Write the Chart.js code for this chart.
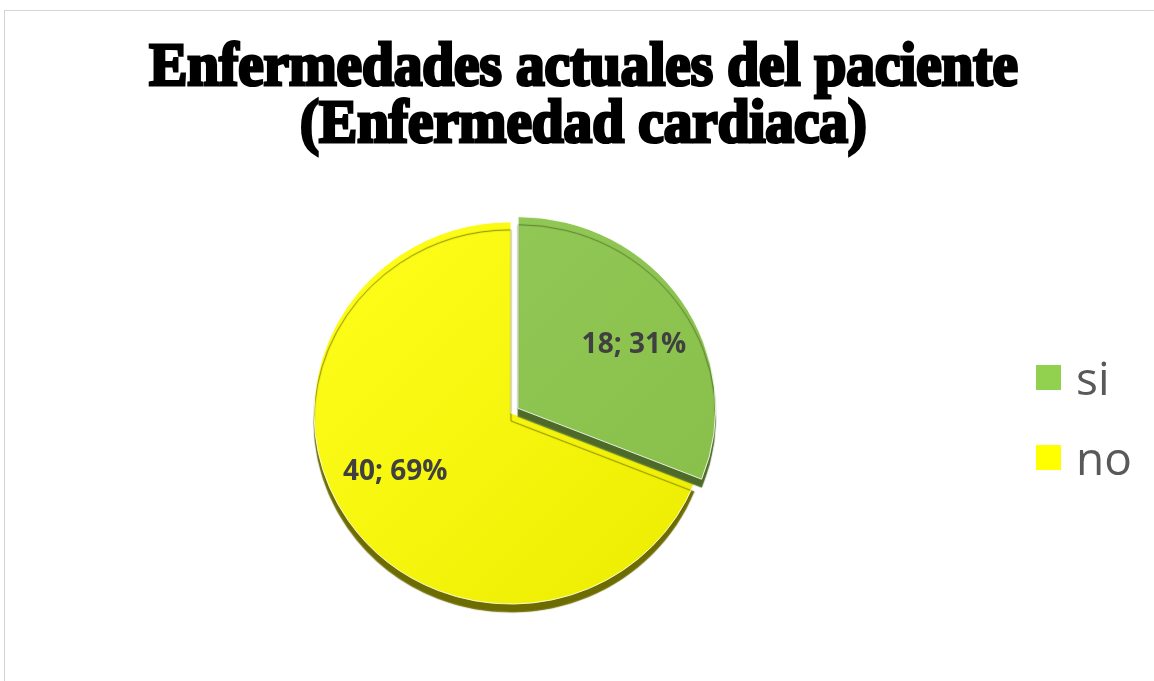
<!DOCTYPE html>
<html><head><meta charset="utf-8">
<script src="https://cdn.jsdelivr.net/npm/chart.js@4.4.1/dist/chart.umd.min.js"></script>
<style>
html,body{margin:0;padding:0;background:#fff;width:1154px;height:681px;overflow:hidden;}
#wrap{position:relative;width:1154px;height:681px;}
#frame{position:absolute;left:4px;top:10px;width:1200px;height:700px;border-top:1px solid #d4d4d4;border-left:1px solid #d4d4d4;}
#c{position:absolute;left:0;top:0;}
#title{position:absolute;left:0;top:36px;width:1167px;text-align:center;font-family:"Liberation Serif",serif;font-weight:bold;font-size:57px;line-height:54px;color:#000;-webkit-text-stroke:3px #000;margin:0;transform:scale(1.003,1.06);transform-origin:50% 0;}
#legend{position:absolute;left:1036px;top:0;font-family:"Open Sans",sans-serif;color:#595959;}
.li{position:absolute;left:0;display:flex;align-items:center;height:46px;white-space:nowrap;font-size:46px;line-height:46px;}
.sw{width:25px;height:25px;margin-right:15px;flex:none;}
</style></head>
<body><div id="wrap"><div id="frame"></div><canvas id="c" width="1154" height="681"></canvas>
<div id="title"></div><div id="legend"></div></div>
<script>
// ---- data ----
const titleLines = ['Enfermedades actuales del paciente', '(Enfermedad cardiaca)'];
const categories = ['si', 'no'];
const counts = [18, 40];

// ---- styles ----
const legendColors = ['#92D050', '#FFFF00'];
const gradStops = [['#95CB59', '#86BE49'], ['#FFFF1C', '#ECEC00']];
const depthColors = ['#4E6A28', '#6C6C00'];
const depth = 8;
const tilt = 0.97;
const labelRadius = 0.67;
const labelShift = 5.5 * Math.PI / 180;
const legendTop = 354, legendStep = 80;

document.getElementById('title').innerHTML = titleLines.map(t => t.replace(/&/g,'&amp;')).join('<br>');

function sliceFill(c) {
  const i = c.dataIndex;
  const chart = c.chart, a = chart.chartArea;
  if (!a || i === undefined) return legendColors[i || 0];
  const cx = (a.left + a.right) / 2, cy = (a.top + a.bottom) / 2;
  const g = chart.ctx.createLinearGradient(cx - 200, cy - 200, cx + 200, cy + 200);
  g.addColorStop(0, gradStops[i][0]);
  g.addColorStop(1, gradStops[i][1]);
  return g;
}

const depthPlugin = {
  id: 'depth',
  beforeDatasetDraw(chart, args) {
    const els = args.meta.data;
    if (!els.length) return;
    const ctx = chart.ctx;
    const cx = els[0].x, cy = els[0].y;
    ctx.save();
    ctx.translate(cx, cy); ctx.scale(1, tilt); ctx.translate(-cx, -cy);
    for (let i = els.length - 1; i >= 0; i--) {
      ctx.save();
      ctx.shadowColor = depthColors[i];
      ctx.shadowOffsetY = depth;
      ctx.shadowBlur = 1;
      els[i].draw(ctx, chart.chartArea);
      ctx.restore();
    }
    ctx.restore();
    return false;
  }
};

const labelPlugin = {
  id: 'sliceLabels',
  afterDatasetsDraw(chart) {
    const meta = chart.getDatasetMeta(0);
    const ctx = chart.ctx;
    const total = counts.reduce((a, b) => a + b, 0);
    ctx.save();
    ctx.font = 'bold 28px "Open Sans"';
    ctx.fillStyle = '#404040';
    ctx.textAlign = 'center';
    ctx.textBaseline = 'middle';
    meta.data.forEach((el, i) => {
      const p = el.getProps(['x', 'y', 'startAngle', 'endAngle', 'outerRadius']);
      const mid0 = (p.startAngle + p.endAngle) / 2;
      const t = (el.options.offset || 0) / 4;
      const mid = mid0 + labelShift;
      const x = p.x + Math.cos(mid0) * t + Math.cos(mid) * labelRadius * p.outerRadius;
      let y = p.y + Math.sin(mid0) * t + Math.sin(mid) * labelRadius * p.outerRadius;
      y = p.y + (y - p.y) * tilt;
      ctx.fillText(counts[i] + '; ' + Math.round(counts[i] / total * 100) + '%', x, y - 2);
    });
    ctx.restore();
  }
};

const htmlLegend = {
  id: 'htmlLegend',
  afterUpdate(chart) {
    const box = document.getElementById('legend');
    box.innerHTML = '';
    chart.data.labels.forEach((lab, i) => {
      const row = document.createElement('div');
      row.className = 'li';
      row.style.top = (legendTop + i * legendStep) + 'px';
      const sw = document.createElement('span');
      sw.className = 'sw';
      sw.style.background = legendColors[i];
      const tx = document.createElement('span');
      tx.textContent = lab;
      row.appendChild(sw); row.appendChild(tx);
      box.appendChild(row);
    });
  }
};

new Chart(document.getElementById('c'), {
  type: 'pie',
  data: {
    labels: categories,
    datasets: [{
      data: counts,
      backgroundColor: sliceFill,
      borderColor: 'rgba(255,255,255,0.85)',
      borderWidth: 1,
      offset: [34, 0],
      hoverOffset: 0,
      radius: 197
    }]
  },
  options: {
    responsive: false,
    animation: false,
    events: [],
    layout: { padding: { left: 0, right: 132, top: 145, bottom: 0 } },
    plugins: {
      legend: { display: false },
      title: { display: false },
      tooltip: { enabled: false }
    }
  },
  plugins: [depthPlugin, labelPlugin, htmlLegend]
});
</script>
</body></html>
